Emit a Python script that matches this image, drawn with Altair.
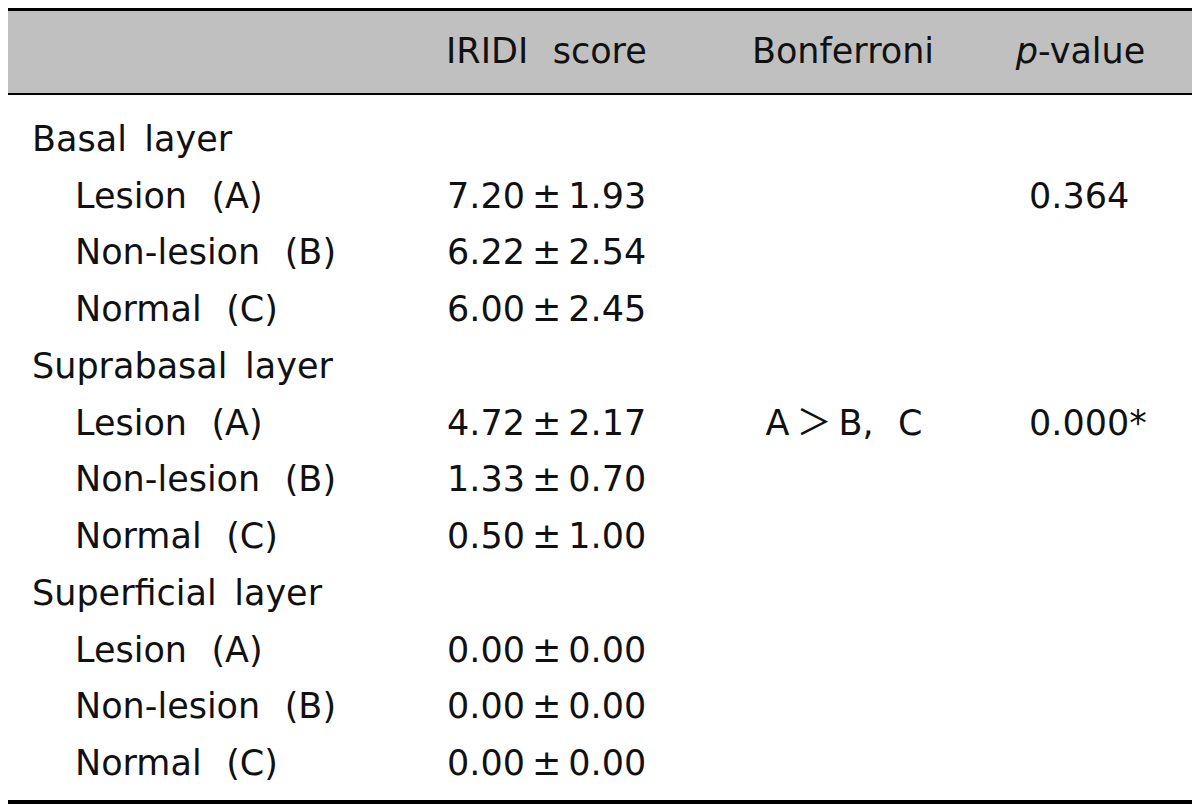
import altair as alt
import pandas as pd

# ---- table content ----
groups = ["Basal\u2002layer", "Suprabasal\u2002layer", "Superficial\u2002layer"]
items = ["Lesion\u2002\u2009(A)", "Non-lesion\u2002\u2009(B)", "Normal\u2002\u2009(C)"]
means = [[7.20, 6.22, 6.00], [4.72, 1.33, 0.50], [0.00, 0.00, 0.00]]
sds = [[1.93, 2.54, 2.45], [2.17, 0.70, 1.00], [0.00, 0.00, 0.00]]
bonferroni = ["", "A\u2009\uff1e\u2009B,\u2002\u2009C", ""]
pvalues = ["0.364", "0.000*", ""]
header_score = "IRIDI\u2002\u2009score"
header_bonf = "Bonferroni"
header_p_italic = "p"
header_p_rest = "-value"

rows = []
r = 1
for g, grp in enumerate(groups):
    rows.append({"row": r, "indent": 0, "label": grp, "score": "", "bonf": "", "p": ""})
    r += 1
    for i, it in enumerate(items):
        rows.append({
            "row": r, "indent": 1, "label": it,
            "score": f"{means[g][i]:.2f}\u2009\u00b1\u2009{sds[g][i]:.2f}",
            "bonf": bonferroni[g] if i == 0 else "",
            "p": pvalues[g] if i == 0 else "",
        })
        r += 1
df = pd.DataFrame(rows)

FONT = "DejaVu Sans, Noto Sans CJK KR"
FS = 35
W, H = 1184, 796

yscale = alt.Scale(domain=[1, 12], range=[132, 756])
one = pd.DataFrame({"k": [0]})

def rect(y0, y1, color):
    return alt.Chart(one).mark_rect(color=color).encode(
        x=alt.value(-1), x2=alt.value(W), y=alt.value(y0), y2=alt.value(y1))

band = rect(3, 85, "#c0c0c0")
top_rule = rect(0, 3, "#000000")
mid_rule = rect(85, 87, "#000000")
bot_rule = rect(792, 796, "#000000")

base = alt.Chart(df)

labels = base.mark_text(align="left", baseline="middle", font=FONT, fontSize=FS, color="#111").encode(
    x=alt.X("indent:Q", scale=alt.Scale(domain=[0, 1], range=[24, 67]), axis=None),
    y=alt.Y("row:Q", scale=yscale, axis=None),
    text="label:N",
)
scores = base.mark_text(align="left", baseline="middle", font=FONT, fontSize=FS, color="#111").encode(
    x=alt.value(439),
    y=alt.Y("row:Q", scale=yscale, axis=None),
    text="score:N",
)
bonf = base.mark_text(align="center", baseline="middle", font=FONT, fontSize=FS, color="#111").encode(
    x=alt.value(836),
    y=alt.Y("row:Q", scale=yscale, axis=None),
    text="bonf:N",
)
pv = base.mark_text(align="left", baseline="middle", font=FONT, fontSize=FS, color="#111").encode(
    x=alt.value(1021),
    y=alt.Y("row:Q", scale=yscale, axis=None),
    text="p:N",
)

def htext(txt, x, align, style="normal"):
    return alt.Chart(pd.DataFrame({"t": [txt]})).mark_text(
        align=align, baseline="middle", font=FONT, fontSize=FS, fontStyle=style, color="#111"
    ).encode(x=alt.value(x), y=alt.value(44), text="t:N")

h1 = htext(header_score, 438, "left")
h2 = htext(header_bonf, 835, "center")
h3a = htext(header_p_italic, 1030, "right", "italic")
h3b = htext(header_p_rest, 1030, "left")

chart = alt.layer(
    band, top_rule, mid_rule, bot_rule, labels, scores, bonf, pv, h1, h2, h3a, h3b
).properties(
    width=W, height=H, padding=0, autosize=alt.AutoSizeParams(type="none")
).configure_view(stroke=None)

chart.save("out.html", embed_options={"renderer": "svg", "actions": False})
